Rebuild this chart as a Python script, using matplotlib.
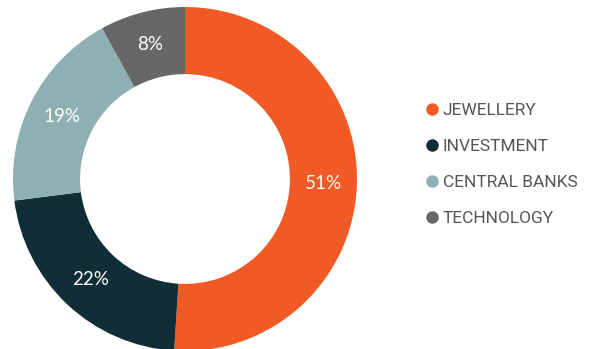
import matplotlib.pyplot as plt
from matplotlib.lines import Line2D

# data
categories = ['JEWELLERY', 'INVESTMENT', 'CENTRAL BANKS', 'TECHNOLOGY']
shares = [51, 22, 19, 8]
colors = ['#F15A24', '#0F2E36', '#8FB0B2', '#666766']

W, H = 592, 349
fig = plt.figure(figsize=(W/100, H/100), dpi=100)

# donut axes: centre ~ (185,179) px, radius ~172 px
cx, cy, r = 185, 179, 172
ax = fig.add_axes([(cx-r)/W, (H-cy-r)/H, 2*r/W, 2*r/H])

wedges, texts, autotexts = ax.pie(
	shares, colors=colors, startangle=90, counterclock=False, radius=1,
	wedgeprops=dict(width=0.39, edgecolor='none'),
	autopct='%d%%', pctdistance=0.805,
	textprops=dict(color='white', fontsize=13.5, family='Lato'))
# pie resets limits, so set them afterwards
ax.set_xlim(-1, 1)
ax.set_ylim(-1, 1)
ax.set_aspect('equal')
ax.axis('off')

# legend
handles = [Line2D([], [], marker='o', linestyle='none', markersize=9,
			markerfacecolor=c, markeredgecolor='none') for c in colors]
leg = fig.legend(handles, categories, loc='upper left',
		bbox_to_anchor=(413/W, 1-94/H), frameon=False,
		prop=dict(family='Roboto', size=12.5), labelspacing=1.2,
		handletextpad=0.0, handlelength=1.2, borderpad=0)
for t in leg.get_texts():
	t.set_color('#555555')

fig.savefig('out.png', dpi=100)
